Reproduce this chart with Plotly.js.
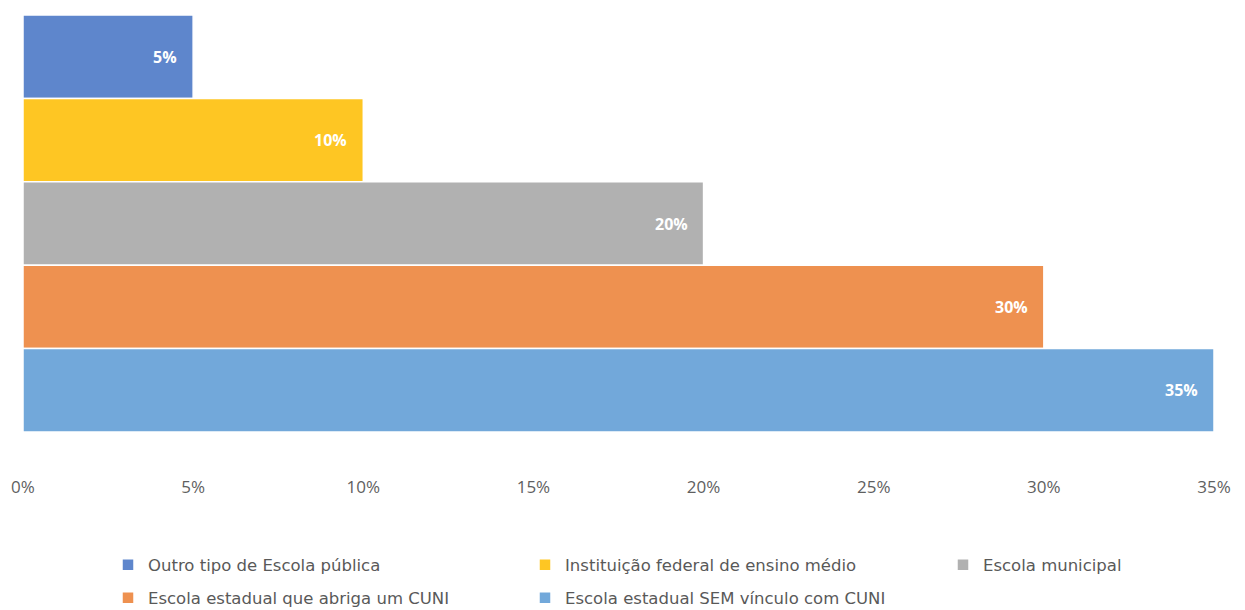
<!DOCTYPE html>
<html>
<head>
<meta charset="utf-8">
<script src="https://cdn.plot.ly/plotly-3.0.1.min.js"></script>
<style>html,body{margin:0;padding:0;background:#fff;}</style>
</head>
<body>
<div id="chart" style="width:1245px;height:610px;"></div>
<script>
const categories = [
  "Outro tipo de Escola pública",
  "Instituição federal de ensino médio",
  "Escola municipal",
  "Escola estadual que abriga um CUNI",
  "Escola estadual SEM vínculo com CUNI"
];
const values = [0.05, 0.10, 0.20, 0.30, 0.35];
const colors = ["#5E86CC", "#FEC623", "#B1B1B1", "#EE9150", "#72A8DA"];
const tickVals = [0, 0.05, 0.10, 0.15, 0.20, 0.25, 0.30, 0.35];
const tickLabels = ["0%", "5%", "10%", "15%", "20%", "25%", "30%", "35%"];
const legendIds = ["legend", "legend2", "legend3", "legend4", "legend5"];

const FONT = "'Open Sans', Lato, sans-serif";
const LEGFONT = "'DejaVu Sans', 'Open Sans', sans-serif";
const W = 1245, H = 610;
// legend slot placement (pixels): [left, rowCenter]
const legendSlots = [[108, 565], [525, 565], [943, 565], [108, 598], [525, 598]];

const traces = categories.map((c, i) => ({
  type: "bar",
  orientation: "h",
  name: c,
  y: [c],
  x: [values[i]],
  marker: {color: colors[i], line: {color: "#ffffff", width: 1.5}},
  legend: legendIds[i],
  hoverinfo: "x+name"
}));

const annotations = categories.map((c, i) => ({
  x: values[i], y: c, xref: "x", yref: "y",
  text: "<b>" + Math.round(values[i] * 100) + "%</b>",
  showarrow: false, xanchor: "right", yanchor: "middle",
  xshift: -14,
  font: {family: FONT, size: 16, color: "#ffffff"}
}));

const layout = {
  width: W, height: H,
  margin: {l: 23, r: 31, t: 15, b: 178},
  paper_bgcolor: "#ffffff", plot_bgcolor: "#ffffff",
  barmode: "overlay",
  bargap: 0,
  showlegend: true,
  xaxis: {
    range: [0, 0.35],
    tickvals: tickVals, ticktext: tickLabels,
    showgrid: false, zeroline: false, showline: false,
    ticks: "", ticklabelstandoff: 43,
    tickfont: {family: FONT, size: 17, color: "#5f5f5f"},
    fixedrange: true
  },
  yaxis: {
    type: "category",
    categoryorder: "array", categoryarray: categories,
    autorange: "reversed",
    showticklabels: false, showgrid: false, zeroline: false, showline: false,
    ticks: "", fixedrange: true
  },
  annotations: annotations
};

legendIds.forEach((id, i) => {
  layout[id] = {
    orientation: "h", xref: "container", yref: "container",
    x: legendSlots[i][0] / W, y: (H - legendSlots[i][1]) / H,
    xanchor: "left", yanchor: "middle",
    font: {family: LEGFONT, size: 16.5, color: "#595959"},
    itemwidth: 30, bgcolor: "rgba(0,0,0,0)"
  };
});

Plotly.newPlot("chart", traces, layout, {displayModeBar: false, staticPlot: true});
</script>
</body>
</html>
